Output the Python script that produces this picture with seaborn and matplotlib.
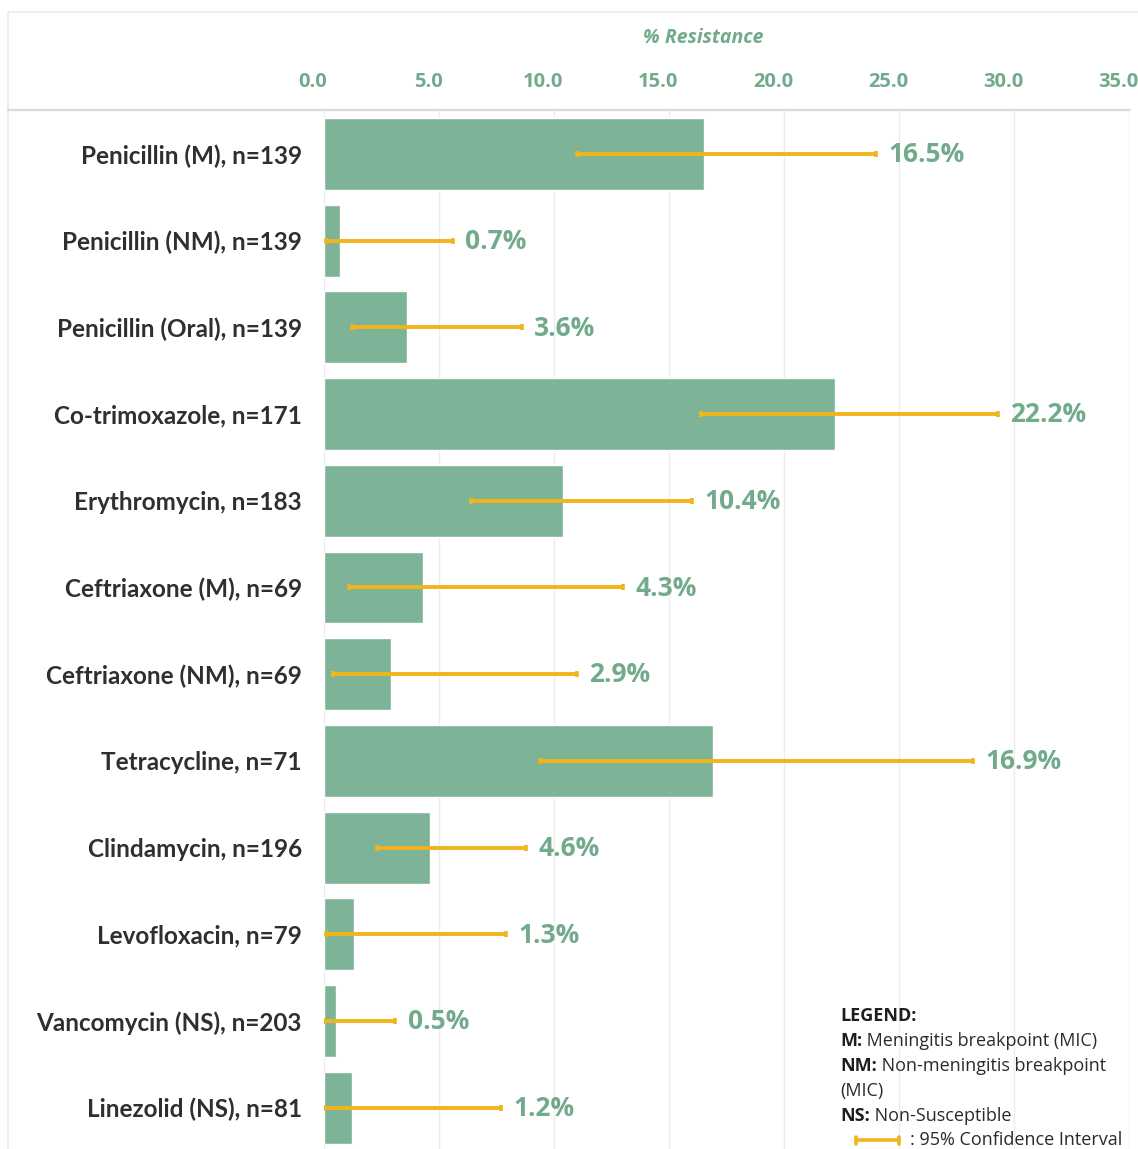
import numpy as np
import matplotlib
matplotlib.use("Agg")
import matplotlib.pyplot as plt
from matplotlib.transforms import ScaledTranslation
from matplotlib.lines import Line2D
import seaborn as sns

drugs = [
    "Penicillin (M), n=139",
    "Penicillin (NM), n=139",
    "Penicillin (Oral), n=139",
    "Co-trimoxazole, n=171",
    "Erythromycin, n=183",
    "Ceftriaxone (M), n=69",
    "Ceftriaxone (NM), n=69",
    "Tetracycline, n=71",
    "Clindamycin, n=196",
    "Levofloxacin, n=79",
    "Vancomycin (NS), n=203",
    "Linezolid (NS), n=81",
]
resistance = [16.5, 0.7, 3.6, 22.2, 10.4, 4.3, 2.9, 16.9, 4.6, 1.3, 0.5, 1.2]
ci_low = [11.0, 0.1, 1.2, 16.4, 6.4, 1.1, 0.4, 9.4, 2.3, 0.1, 0.0, 0.0]
ci_high = [24.0, 5.6, 8.6, 29.3, 16.0, 13.0, 11.0, 28.2, 8.8, 7.9, 3.1, 7.7]
xticks = [0, 5, 10, 15, 20, 25, 30, 35]

BAR = "#7db397"
CI = "#f2b41c"
GREEN_TXT = "#72aa8c"
DARK = "#2f2f33"

sns.set_theme(style="white")
plt.rcParams["font.family"] = ["Lato", "DejaVu Sans"]

W, H = 1138, 1149
fig = plt.figure(figsize=(W / 100, H / 100), dpi=100)
fig.patch.set_facecolor("white")

x0, x1 = 324, 1129
ytop = 110
ax = fig.add_axes([x0 / W, 0, (x1 - x0) / W, 1 - ytop / H])

sns.barplot(x=resistance, y=drugs, orient="h", color=BAR, saturation=1,
            width=0.83, ax=ax, zorder=2)

ypos = np.arange(len(drugs))
res = np.array(resistance)
err = [res - np.array(ci_low), np.array(ci_high) - res]
ax.errorbar(res, ypos, xerr=err, fmt="none", ecolor=CI, elinewidth=2.8,
            capsize=2.4, capthick=2.6, zorder=3)

fam = ["Open Sans", "DejaVu Sans"]

# value labels just right of each interval
for y, v, hi in zip(ypos, resistance, ci_high):
    ax.annotate(f"{v:.1f}%", xy=(hi, y), xytext=(9, -0.5), textcoords="offset points",
                ha="left", va="center", fontsize=19, fontweight="bold",
                color=GREEN_TXT, family=fam)

ax.set_xlim(0, 35)
ax.set_ylim(11.476, -0.507)
ax.set_xticks(xticks)
ax.xaxis.grid(True, color="#ededed", lw=1)
ax.set_axisbelow(True)
ax.tick_params(axis="x", length=0, labelbottom=False, labeltop=False)
ax.tick_params(axis="y", length=0, pad=16)
for lab in ax.get_yticklabels():
    lab.set_fontsize(17.5)
    lab.set_fontweight("bold")
    lab.set_color(DARK)
ax.set_xlabel("")
ax.set_ylabel("")
for s in ax.spines.values():
    s.set_visible(False)

# x tick labels in the header row above the plot
shift = ScaledTranslation(-11 / 100, 28 / 100, fig.dpi_scale_trans)
for t in xticks:
    ax.text(t, 1, f"{t:.1f}", transform=ax.get_xaxis_transform() + shift,
            ha="center", va="center", fontsize=14.5, fontweight="bold",
            color=GREEN_TXT, family=fam)

fig.text(703 / W, 1 - 38 / H, "% Resistance", ha="center", va="center",
         fontsize=14, fontweight="bold", fontstyle="italic", color=GREEN_TXT,
         family=fam)

# frame lines
fig.add_artist(Line2D([8 / W, 8 / W], [0, 1 - 12 / H], color="#e9e9ef", lw=1.2))
fig.add_artist(Line2D([8 / W, 1], [1 - 12 / H, 1 - 12 / H], color="#e9e9ef", lw=1.2))
fig.add_artist(Line2D([8 / W, 1130 / W], [1 - ytop / H, 1 - ytop / H], color="#d9d9e1", lw=1.6))

# legend block
lx = 840 / W
legend_rows = [
    ("LEGEND:", ""),
    ("M:", " Meningitis breakpoint (MIC)"),
    ("NM:", " Non-meningitis breakpoint"),
    ("", "(MIC)"),
    ("NS:", " Non-Susceptible"),
]
for i, (b, r) in enumerate(legend_rows):
    yy = 1 - (1016 + i * 25) / H
    if b:
        tb = fig.text(lx, yy, b, ha="left", va="center", fontsize=13,
                      fontweight="bold", color="#1e1e1e", family=fam)
        if r:
            ax.annotate(r, xy=(1, 0.5), xycoords=tb, ha="left", va="center",
                        fontsize=13, color="#2a2a2a", family=fam,
                        annotation_clip=False)
    else:
        fig.text(lx, yy, r, ha="left", va="center", fontsize=13,
                 color="#2a2a2a", family=fam)

yl = 1 - 1140 / H
fig.add_artist(Line2D([856 / W, 899 / W], [yl, yl], color=CI, lw=2.6))
for xc in (856, 899):
    fig.add_artist(Line2D([xc / W, xc / W], [yl - 3.5 / H, yl + 3.5 / H], color=CI, lw=2.6))
fig.text(910 / W, yl, ": 95% Confidence Interval", ha="left", va="center",
         fontsize=13, color="#2a2a2a", family=fam)

fig.savefig("out.png", dpi=100, facecolor="white")
